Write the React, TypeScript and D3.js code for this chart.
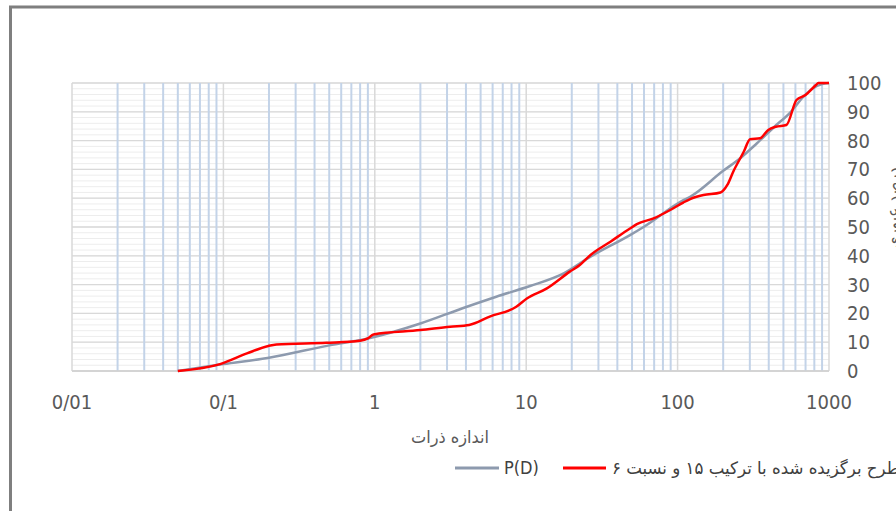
import * as d3 from "d3";
import { useEffect, useRef } from "react";

// particle size (mm) on log axis, percent passing on y
const xTicks = [0.01, 0.1, 1, 10, 100, 1000];
const xTickLabels = ["0/01", "0/1", "1", "10", "100", "1000"];
const yTicks = [0, 10, 20, 30, 40, 50, 60, 70, 80, 90, 100];

// P(D) reference curve
const pdSize = [0.05, 0.1, 0.2, 0.5, 0.9, 2, 3.8, 6.35, 10.6, 17.7, 26.6, 48.5, 60, 110, 121, 200, 258, 333, 436, 560, 676, 780, 900, 1000];
const pdPass = [0, 2.4, 4.6, 8.9, 11.3, 16.5, 21.8, 25.8, 29.5, 33.9, 39.7, 47.2, 50.1, 59.4, 60.5, 69.5, 73.8, 79, 84.8, 90, 95.2, 98.1, 99.6, 100];

// selected mix (15 / ratio 6)
const mixSize = [0.05, 0.095, 0.143, 0.198, 0.224, 0.48, 0.8, 0.9, 0.98, 2, 3.14, 4.2, 5.74, 8.6, 10.1, 13.7, 19.4, 22.6, 26.6, 36, 48.5, 53.8, 69.4, 89.4, 109, 121, 148, 192, 213, 233, 274, 301, 350, 397, 445, 523, 610, 700, 820, 850, 1000];
const mixPass = [0, 2.4, 6.1, 8.7, 9.2, 9.8, 10.5, 11.3, 12.7, 14.2, 15.4, 16, 18.9, 22.3, 25.2, 28.7, 34.5, 36.8, 40.3, 44.9, 49.5, 51, 53, 55.9, 58.5, 59.7, 61.1, 62, 64.6, 69.2, 76.2, 80.5, 80.8, 83.7, 84.8, 85.4, 94.1, 95.8, 99.3, 100, 100];

const seriesNames = ["P(D)", "طرح برگزیده شده با ترکیب ۱۵ و نسبت ۶"];
const xTitle = "اندازه ذرات";
const yTitle = "درصد عبوری";

const App = () => {
  const ref = useRef<SVGSVGElement>(null);

  useEffect(() => {
    const svg = d3.select(ref.current);
    svg.selectAll("*").remove();

    const width = 896;
    const height = 511;
    const left = 72;
    const right = 829;
    const top = 83;
    const bottom = 371;
    const numFont = "'DejaVu Sans Condensed', sans-serif";
    const faFont = "'DejaVu Sans Condensed', 'DejaVu Sans', sans-serif";

    svg.attr("width", width).attr("height", height);

    // outer frame of the picture
    svg
      .append("rect")
      .attr("x", 10.5)
      .attr("y", 7)
      .attr("width", 1000)
      .attr("height", 700)
      .attr("fill", "white")
      .attr("stroke", "#7f7f7f")
      .attr("stroke-width", 3);

    const x = d3.scaleLog().domain([0.01, 1000]).range([left, right]);
    const y = d3.scaleLinear().domain([0, 100]).range([bottom, top]);

    const grid = svg.append("g");

    // minor horizontal lines every 2
    grid
      .selectAll("line.hmin")
      .data(d3.range(0, 101, 2))
      .join("line")
      .attr("x1", left)
      .attr("x2", right)
      .attr("y1", (d) => y(d))
      .attr("y2", (d) => y(d))
      .attr("stroke", "#ededed")
      .attr("stroke-width", 1);

    // major horizontal lines
    grid
      .selectAll("line.hmaj")
      .data(yTicks)
      .join("line")
      .attr("x1", left)
      .attr("x2", right)
      .attr("y1", (d) => y(d))
      .attr("y2", (d) => y(d))
      .attr("stroke", "#d9d9d9")
      .attr("stroke-width", 1.3);

    // minor vertical lines (2..9 in each decade)
    const minors: number[] = [];
    xTicks.slice(0, -1).forEach((dec) => {
      for (let k = 2; k < 10; k++) minors.push(dec * k);
    });
    grid
      .selectAll("line.vmin")
      .data(minors)
      .join("line")
      .attr("x1", (d) => x(d))
      .attr("x2", (d) => x(d))
      .attr("y1", top)
      .attr("y2", bottom)
      .attr("stroke", "#c3d3e8")
      .attr("stroke-width", 2);

    grid
      .selectAll("line.vmaj")
      .data(xTicks)
      .join("line")
      .attr("x1", (d) => x(d))
      .attr("x2", (d) => x(d))
      .attr("y1", top)
      .attr("y2", bottom)
      .attr("stroke", "#d9d9d9")
      .attr("stroke-width", 1.5);

    // bottom axis line
    svg
      .append("line")
      .attr("x1", left)
      .attr("x2", right)
      .attr("y1", bottom)
      .attr("y2", bottom)
      .attr("stroke", "#d0d0d0")
      .attr("stroke-width", 1.5);

    const line = d3
      .line<[number, number]>()
      .x((d) => x(d[0]))
      .y((d) => y(d[1]))
      .curve(d3.curveMonotoneX);

    const pd = pdSize.map((s, i) => [s, pdPass[i]] as [number, number]);
    const mix = mixSize.map((s, i) => [s, mixPass[i]] as [number, number]);

    svg
      .append("path")
      .attr("d", line(pd))
      .attr("fill", "none")
      .attr("stroke", "#8d9aae")
      .attr("stroke-width", 2.5);

    svg
      .append("path")
      .attr("d", line(mix))
      .attr("fill", "none")
      .attr("stroke", "#ff0000")
      .attr("stroke-width", 2.5);

    // x tick labels
    svg
      .selectAll("text.xt")
      .data(xTicks)
      .join("text")
      .attr("x", (d) => x(d))
      .attr("y", 409)
      .attr("text-anchor", "middle")
      .attr("font-family", numFont)
      .attr("font-size", 20)
      .attr("fill", "#595959")
      .text((d, i) => xTickLabels[i]);

    // y tick labels on the right
    svg
      .selectAll("text.yt")
      .data(yTicks)
      .join("text")
      .attr("x", 847)
      .attr("y", (d) => y(d) + 7)
      .attr("font-family", numFont)
      .attr("font-size", 20)
      .attr("fill", "#595959")
      .text((d) => d);

    svg
      .append("text")
      .attr("x", 450)
      .attr("y", 443)
      .attr("text-anchor", "middle")
      .attr("font-family", faFont)
      .attr("font-size", 17)
      .attr("fill", "#595959")
      .attr("textLength", 78)
      .attr("lengthAdjust", "spacingAndGlyphs")
      .text(xTitle);

    // y title sits at the right edge and is partly cut off, as in the source
    svg
      .append("text")
      .attr("transform", "translate(899,208) rotate(-90)")
      .attr("text-anchor", "middle")
      .attr("font-family", faFont)
      .attr("font-size", 17)
      .attr("fill", "#595959")
      .text(yTitle);

    // legend
    const lg = svg.append("g");
    lg.append("line")
      .attr("x1", 455)
      .attr("x2", 499)
      .attr("y1", 468)
      .attr("y2", 468)
      .attr("stroke", "#8d9aae")
      .attr("stroke-width", 3);
    lg.append("text")
      .attr("x", 504)
      .attr("y", 474)
      .attr("font-family", numFont)
      .attr("font-size", 18)
      .attr("fill", "#404040")
      .text(seriesNames[0]);
    lg.append("line")
      .attr("x1", 563)
      .attr("x2", 606)
      .attr("y1", 468)
      .attr("y2", 468)
      .attr("stroke", "#ff0000")
      .attr("stroke-width", 3);
    lg.append("text")
      .attr("x", 612)
      .attr("y", 474)
      .attr("font-family", faFont)
      .attr("font-size", 17)
      .attr("fill", "#404040")
      .attr("direction", "rtl")
      .attr("text-anchor", "end")
      .attr("textLength", 288)
      .attr("lengthAdjust", "spacingAndGlyphs")
      .text(seriesNames[1]);
  }, []);

  return <svg ref={ref} style={{ position: "absolute", left: 0, top: 0 }}></svg>;
};

export default App;
